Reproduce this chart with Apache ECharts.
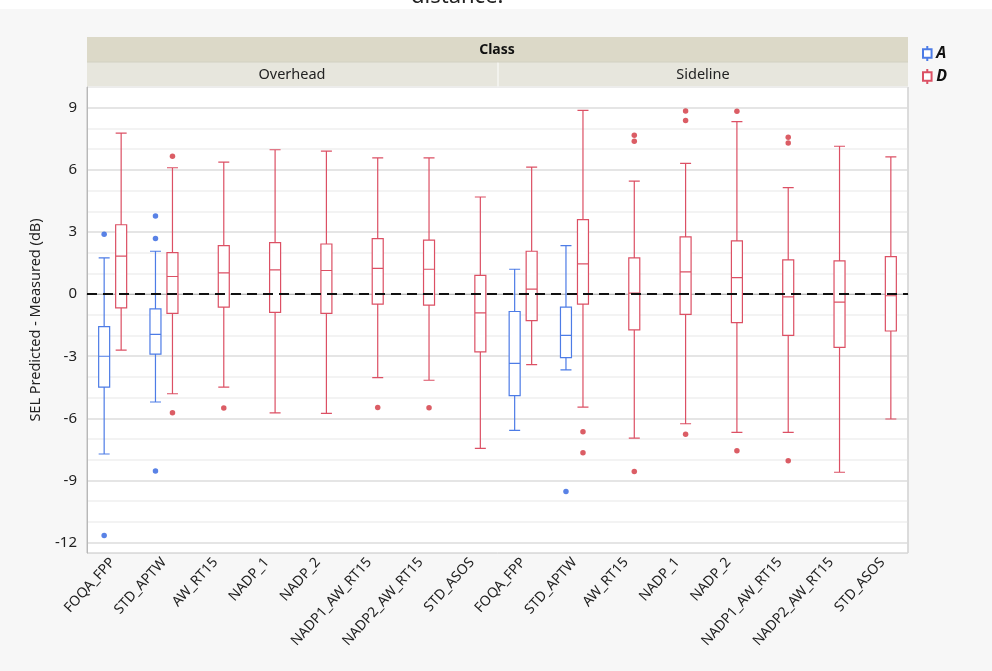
<!DOCTYPE html>
<html>
<head>
<meta charset="utf-8">
<script src="https://cdn.jsdelivr.net/npm/echarts@6/dist/echarts.min.js"></script>
<style>html,body{margin:0;padding:0;background:#f7f7f7;}#c{width:992px;height:671px;}</style>
</head>
<body>
<div id="c"></div>
<script>
// ---- data ----
const panelCats = ['FOQA_FPP','STD_APTW','AW_RT15','NADP_1','NADP_2','NADP1_AW_RT15','NADP2_AW_RT15','STD_ASOS'];
const categories = panelCats.concat(panelCats); // Overhead (0-7), Sideline (8-15)
const panels = ['Overhead', 'Sideline'];
const yTicks = [-12, -9, -6, -3, 0, 3, 6, 9];

// [min whisker, Q1, median, Q3, max whisker]; null = no data
const boxA = [
  [-7.72, -4.49, -3.00, -1.57, 1.75],
  [-5.21, -2.90, -1.94, -0.71, 2.07],
  null, null, null, null, null, null,
  [-6.58, -4.90, -3.34, -0.84, 1.20],
  [-3.66, -3.07, -1.99, -0.63, 2.34],
  null, null, null, null, null, null
];
const boxD = [
  [-2.70, -0.66, 1.83, 3.35, 7.77],
  [-4.81, -0.93, 0.85, 2.00, 6.10],
  [-4.49, -0.63, 1.03, 2.34, 6.37],
  [-5.73, -0.88, 1.17, 2.49, 6.97],
  [-5.76, -0.93, 1.14, 2.42, 6.90],
  [-4.03, -0.48, 1.24, 2.68, 6.58],
  [-4.16, -0.53, 1.20, 2.61, 6.58],
  [-7.45, -2.79, -0.91, 0.90, 4.69],
  [-3.40, -1.28, 0.24, 2.07, 6.13],
  [-5.46, -0.48, 1.46, 3.60, 8.87],
  [-6.95, -1.73, 0.05, 1.75, 5.46],
  [-6.26, -0.98, 1.07, 2.76, 6.31],
  [-6.68, -1.38, 0.80, 2.57, 8.33],
  [-6.68, -1.99, -0.13, 1.65, 5.14],
  [-8.60, -2.57, -0.39, 1.60, 7.14],
  [-6.03, -1.78, -0.08, 1.81, 6.63]
];
// outliers: [category index, value]
const outA = [[0, 2.89], [0, -11.65], [1, 3.77], [1, 2.68], [1, -8.54], [9, -9.53]];
const outD = [[1, 6.66], [1, -5.73], [2, -5.50], [5, -5.47], [6, -5.49],
  [9, -6.64], [9, -7.66], [10, 7.67], [10, 7.38], [10, -8.57],
  [11, 8.84], [11, 8.38], [11, -6.77], [12, 8.83], [12, -7.56],
  [13, 7.57], [13, 7.30], [13, -8.04]];

// ---- styles ----
const FONT = 'Noto Sans';
const BLUE = '#4d7ce6', BLUE_DOT = '#2f63e0';
const RED = '#dc5064', RED_DOT = '#d2343f';
const PL = 87, PR = 992 - 908, PT = 87, PB = 671 - 553;
const SHIFT = 8.5;
const Y_MIN = -12.5, Y_MAX = 10;

function toBox(arr) { return arr.map(d => d ? d : ['-', '-', '-', '-', '-']); }

function hiddenX() { return { type: 'category', data: categories, show: false, boundaryGap: true }; }
function hiddenY() { return { type: 'value', min: Y_MIN, max: Y_MAX, show: false }; }

const chart = echarts.init(document.getElementById('c'));
chart.setOption({
  backgroundColor: '#f7f7f7',
  animation: false,
  textStyle: { fontFamily: FONT },
  title: {
    text: 'distance.', left: 411, top: -14, padding: 0,
    textStyle: { fontSize: 22, fontWeight: 'normal', color: '#222', fontFamily: FONT }
  },
  legend: {
    data: [
      { name: 'A', itemStyle: { color: '#fff', borderColor: BLUE, borderWidth: 2 } },
      { name: 'D', itemStyle: { color: '#fff', borderColor: RED, borderWidth: 2 } }
    ],
    orient: 'vertical', left: 917, top: 40, itemWidth: 10, itemHeight: 15, itemGap: 6,
    icon: 'path://M5,0V3M1,3H9V11H1ZM5,11V14',
    textStyle: { fontSize: 16, fontWeight: 'bold', fontStyle: 'italic', color: '#111', fontFamily: FONT, padding: [0, 0, 0, -1] }
  },
  graphic: [
    { type: 'rect', z: -10, shape: { x: 0, y: 0, width: 992, height: 9 }, style: { fill: '#ffffff' } },
    { type: 'rect', shape: { x: PL, y: 37, width: 821, height: 25 }, style: { fill: '#dcd9c8' } },
    { type: 'rect', shape: { x: PL, y: 62, width: 821, height: 25 }, style: { fill: '#e7e6dd' } },
    { type: 'line', shape: { x1: 498, y1: 62, x2: 498, y2: 87 }, style: { stroke: '#f6f6f2', lineWidth: 1.5 } },
    { type: 'line', shape: { x1: PL, y1: 62, x2: 908, y2: 62 }, style: { stroke: '#d2d0c2', lineWidth: 1 } },
    { type: 'text', x: 497, y: 50, style: { text: 'Class', fontSize: 14, fontWeight: 'bold', fill: '#111', fontFamily: FONT, align: 'center', verticalAlign: 'middle' } },
    { type: 'text', x: 292, y: 75, style: { text: panels[0], fontSize: 14.5, fill: '#222', fontFamily: FONT, align: 'center', verticalAlign: 'middle' } },
    { type: 'text', x: 703, y: 75, style: { text: panels[1], fontSize: 14.5, fill: '#222', fontFamily: FONT, align: 'center', verticalAlign: 'middle' } }
  ],
  grid: [
    { left: PL, right: PR, top: PT, bottom: PB, show: true, backgroundColor: '#ffffff', borderColor: '#c4c4c4', borderWidth: 1 },
    { left: PL - SHIFT, right: PR + SHIFT, top: PT, bottom: PB },
    { left: PL + SHIFT, right: PR - SHIFT, top: PT, bottom: PB }
  ],
  xAxis: [
    {
      type: 'category', data: categories, gridIndex: 0, boundaryGap: true,
      axisLine: { lineStyle: { color: '#b8b8b8' } },
      axisTick: { show: false },
      axisLabel: { interval: 0, rotate: 48, margin: 7, fontSize: 14, color: '#222', fontFamily: FONT, padding: [0, 0, 0, 0] },
      splitLine: { show: true, interval: (i) => i === 8, lineStyle: { color: '#dadada', width: 1.5 } }
    },
    Object.assign(hiddenX(), { gridIndex: 1 }),
    Object.assign(hiddenX(), { gridIndex: 2 })
  ],
  yAxis: [
    {
      type: 'value', gridIndex: 0, min: Y_MIN, max: Y_MAX, interval: 0.5,
      name: 'SEL Predicted - Measured (dB)', nameLocation: 'middle', nameGap: 44,
      nameTextStyle: { fontSize: 14.5, color: '#222', fontFamily: FONT },
      axisLine: { show: true, lineStyle: { color: '#b8b8b8' } },
      axisTick: { show: false },
      axisLabel: {
        fontSize: 15, color: '#222', margin: 10, fontFamily: FONT,
        formatter: v => (yTicks.indexOf(Math.round(v * 100) / 100) >= 0 ? String(v) : '')
      },
      splitLine: {
        show: true,
        lineStyle: { color: ['rgba(0,0,0,0)', '#dcdcdc', 'rgba(0,0,0,0)', '#efefef', 'rgba(0,0,0,0)', '#efefef'], width: 1.5 }
      }
    },
    Object.assign(hiddenY(), { gridIndex: 1 }),
    Object.assign(hiddenY(), { gridIndex: 2 })
  ],
  series: [
    {
      name: 'A', type: 'boxplot', xAxisIndex: 1, yAxisIndex: 1, data: toBox(boxA),
      boxWidth: [11, 11], itemStyle: { color: '#ffffff', borderColor: BLUE, borderWidth: 1.2 }, z: 4
    },
    {
      name: 'D', type: 'boxplot', xAxisIndex: 2, yAxisIndex: 2, data: toBox(boxD),
      boxWidth: [11, 11], itemStyle: { color: '#ffffff', borderColor: RED, borderWidth: 1.2 }, z: 4
    },
    {
      name: 'A', type: 'scatter', xAxisIndex: 1, yAxisIndex: 1, data: outA,
      symbolSize: 5.5, itemStyle: { color: BLUE_DOT }, z: 5
    },
    {
      name: 'D', type: 'scatter', xAxisIndex: 2, yAxisIndex: 2, data: outD,
      symbolSize: 5.5, itemStyle: { color: RED_DOT }, z: 5
    },
    {
      name: 'zero', type: 'line', xAxisIndex: 0, yAxisIndex: 0, data: [], z: 6,
      markLine: {
        silent: true, symbol: 'none', label: { show: false },
        lineStyle: { color: '#111', width: 2.2, type: [10, 6] },
        data: [{ yAxis: 0 }]
      }
    }
  ]
});
</script>
</body>
</html>
